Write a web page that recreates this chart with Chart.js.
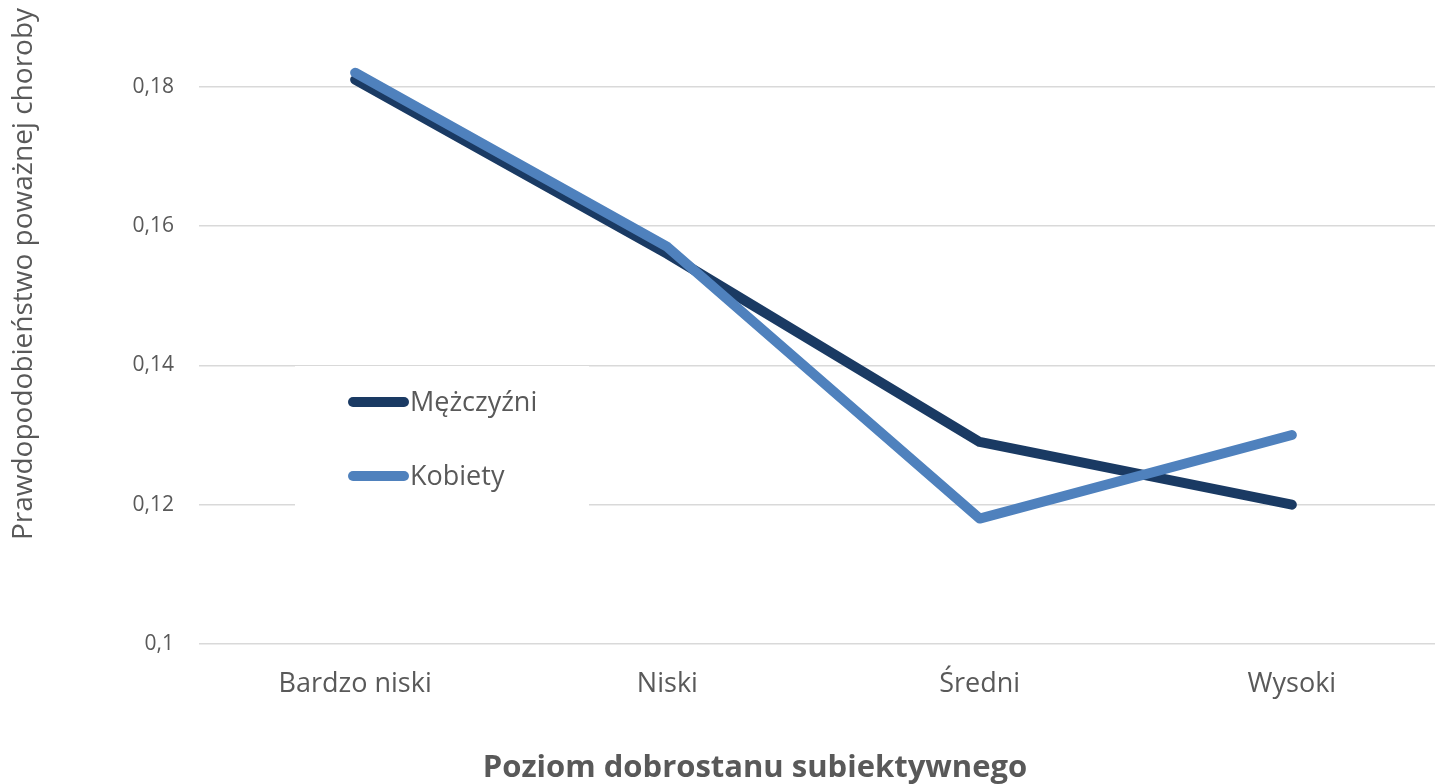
<!DOCTYPE html>
<html lang="pl">
<head>
<meta charset="utf-8">
<title>Prawdopodobieństwo poważnej choroby</title>
<script src="https://cdn.jsdelivr.net/npm/chart.js@4/dist/chart.umd.min.js"></script>
<style>
  html, body { margin: 0; padding: 0; background: #fff; overflow: hidden; }
  #wykres { display: block; }
</style>
</head>
<body>
<canvas id="wykres" width="1450" height="784"></canvas>
<script>
// Dane
const kategorie = ['Bardzo niski', 'Niski', 'Średni', 'Wysoki'];
const mezczyzni = [0.181, 0.156, 0.129, 0.120];
const kobiety = [0.182, 0.157, 0.118, 0.130];
const yTicks = [0.1, 0.12, 0.14, 0.16, 0.18];

const tytulY = 'Prawdopodobieństwo poważnej choroby';
const tytulX = 'Poziom dobrostanu subiektywnego';

const SZARY = '#595959';
const FONT = '"Open Sans", "DejaVu Sans", sans-serif';

function fmtLiczba(v) {
  return String(Number(v.toFixed(2))).replace('.', ',');
}

// Tytuły osi rysowane ręcznie (pozycja jak w oryginale)
const tytulyOsi = {
  id: 'tytulyOsi',
  afterDraw(chart) {
    const ctx = chart.ctx;
    ctx.save();
    ctx.fillStyle = SZARY;
    ctx.textAlign = 'center';
    ctx.textBaseline = 'middle';

    ctx.font = `28px ${FONT}`;
    ctx.translate(24, 274);
    ctx.rotate(-Math.PI / 2);
    ctx.fillText(tytulY, 0, 0);
    ctx.restore();

    ctx.save();
    ctx.fillStyle = SZARY;
    ctx.textAlign = 'center';
    ctx.textBaseline = 'middle';
    ctx.font = `bold 31px ${FONT}`;
    ctx.fillText(tytulX, 755, 768);
    ctx.restore();
  }
};

// Legenda wewnątrz obszaru wykresu, na białym tle
const legendaWewn = {
  id: 'legendaWewn',
  afterDraw(chart) {
    const ctx = chart.ctx;
    ctx.save();
    ctx.fillStyle = '#fff';
    ctx.fillRect(295, 366, 294, 140);

    const kolejnosc = [0, 1];
    kolejnosc.forEach((i, n) => {
      const ds = chart.data.datasets[i];
      const y = 402 + n * 74;
      ctx.strokeStyle = ds.borderColor;
      ctx.lineWidth = 10;
      ctx.lineCap = 'round';
      ctx.beginPath();
      ctx.moveTo(353, y);
      ctx.lineTo(404, y);
      ctx.stroke();

      ctx.fillStyle = SZARY;
      ctx.font = `27px ${FONT}`;
      ctx.textAlign = 'left';
      ctx.textBaseline = 'middle';
      ctx.fillText(ds.label, 410, y + 1);
    });
    ctx.restore();
  }
};

const ctx = document.getElementById('wykres').getContext('2d');
new Chart(ctx, {
  type: 'line',
  data: {
    labels: kategorie,
    datasets: [
      {
        label: 'Mężczyźni',
        data: mezczyzni,
        borderColor: '#1A3A63',
        backgroundColor: '#1A3A63',
        borderWidth: 10,
        order: 1
      },
      {
        label: 'Kobiety',
        data: kobiety,
        borderColor: '#4F81BD',
        backgroundColor: '#4F81BD',
        borderWidth: 10,
        order: 0
      }
    ]
  },
  options: {
    responsive: false,
    animation: false,
    devicePixelRatio: 1,
    layout: { padding: { top: 17, right: 2, left: 0, bottom: 0 } },
    elements: {
      line: { tension: 0, borderCapStyle: 'round', borderJoinStyle: 'round' },
      point: { radius: 0, hoverRadius: 0 }
    },
    plugins: {
      legend: { display: false },
      tooltip: { enabled: false }
    },
    scales: {
      x: {
        offset: true,
        grid: { display: false, drawTicks: false, offset: true },
        border: { display: false },
        ticks: {
          color: SZARY,
          font: { family: FONT, size: 27 },
          padding: 24,
          maxRotation: 0
        },
        afterFit(scale) {
          scale.height = 140;
          scale.paddingLeft = 0;
          scale.paddingRight = 0;
        }
      },
      y: {
        min: 0.1,
        max: 0.19,
        afterBuildTicks(scale) {
          scale.ticks = yTicks.map(v => ({ value: v }));
        },
        grid: { color: '#D9D9D9', lineWidth: 1.5, drawTicks: false },
        border: { display: false },
        ticks: {
          color: SZARY,
          font: { family: FONT, size: 21 },
          padding: 25,
          callback: v => fmtLiczba(v)
        },
        afterFit(scale) {
          scale.width = 199;
          scale.paddingTop = 0;
          scale.paddingBottom = 0;
        }
      }
    }
  },
  plugins: [tytulyOsi, legendaWewn]
});
</script>
</body>
</html>
